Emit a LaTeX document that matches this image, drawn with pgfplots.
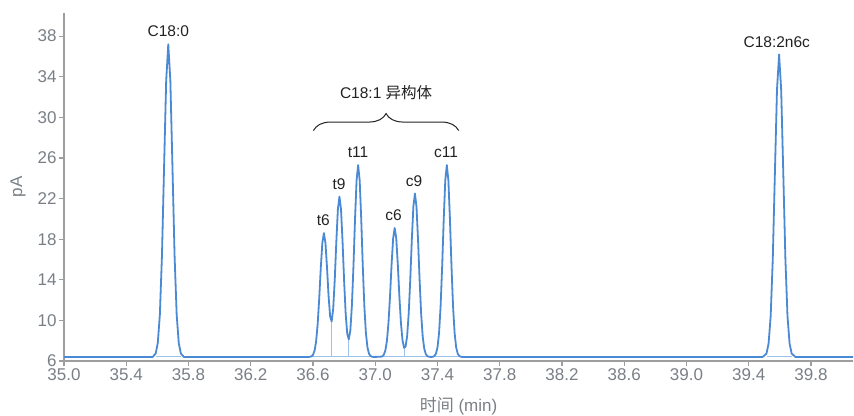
\documentclass[border=0pt]{standalone}
\usepackage{pgfplots}
\pgfplotsset{compat=1.18}
\usepackage{fontspec}
\setmainfont{Liberation Sans}
\newfontfamily\cjk{Noto Sans CJK SC}
\usetikzlibrary{decorations.pathreplacing}
\definecolor{lineblue}{HTML}{4A89D3}
\definecolor{lightblue}{HTML}{9CC2EC}
\definecolor{axisgrey}{HTML}{9E9E9E}
\definecolor{ticktext}{HTML}{7A7F85}
\definecolor{annot}{HTML}{222222}
\begin{document}
\begin{tikzpicture}
\begin{axis}[
  at={(64pt,54pt)}, anchor=south west,
  scale only axis, width=789pt, height=348pt,
  xmin=35, xmax=40.07, ymin=6, ymax=40.28,
  axis x line*=bottom, axis y line*=left,
  axis line style={axisgrey, line width=1.4pt},
  tick style={axisgrey, line width=1.2pt},
  major tick length=5pt, tick align=outside,
  xtick={35.0,35.4,35.8,36.2,36.6,37.0,37.4,37.8,38.2,38.6,39.0,39.4,39.8},
  xticklabels={35.0,35.4,35.8,36.2,36.6,37.0,37.4,37.8,38.2,38.6,39.0,39.4,39.8},
  ytick={6,10,14,18,22,26,30,34,38},
  yticklabels={6,10,14,18,22,26,30,34,38},
  tick label style={font=\fontsize{17}{19}\selectfont, text=ticktext},
  xticklabel style={yshift=1pt},
  yticklabel style={xshift=1pt},
  xlabel={{\cjk 时间} (min)},
  ylabel={pA},
  xlabel style={at={(axis description cs:0.5,0)}, anchor=center, yshift=-45pt, font=\fontsize{17}{19}\selectfont, text=ticktext},
  ylabel style={at={(axis description cs:0,0.5)}, anchor=center, rotate=0, yshift=46pt, font=\fontsize{17}{19}\selectfont, text=ticktext},
  clip=false,
]
% integration baselines and drop lines
\addplot[lightblue, line width=1pt] coordinates {(35.59,6.4) (35.75,6.4)};
\addplot[lightblue, line width=1pt] coordinates {(36.59,6.4) (37.55,6.4)};
\addplot[lightblue, line width=1pt] coordinates {(39.515,6.4) (39.675,6.4)};
\addplot[lightblue, line width=1pt] coordinates {(36.72,6.4) (36.72,9.89)};
\addplot[lightblue, line width=1pt] coordinates {(36.83,6.4) (36.83,8.13)};
\addplot[lightblue, line width=1pt] coordinates {(37.19,6.4) (37.19,7.27)};
% chromatogram
\addplot[lineblue, line width=1.8pt, line join=round] coordinates {
(35.00,6.40) (35.57,6.40) (35.589,6.74) (35.6025,7.75) (35.616,10.57) (35.6295,16.40) (35.643,25.08) (35.6565,33.58) (35.67,37.20) (35.6835,33.58) (35.697,25.08) (35.7105,16.40) (35.724,10.57) (35.7375,7.75) (35.751,6.74) (35.77,6.40)
(36.57,6.40) (36.58,6.415) (36.59,6.46) (36.60,6.61) (36.61,7.01) (36.62,7.92) (36.63,9.62) (36.64,12.16) (36.65,15.15) (36.66,17.62) (36.67,18.60) (36.68,17.64) (36.69,15.23) (36.70,12.43) (36.71,10.41) (36.72,9.89) (36.73,11.18) (36.74,14.07) (36.75,17.79) (36.76,20.95) (36.77,22.20) (36.78,20.94) (36.79,17.73) (36.80,13.88) (36.81,10.66) (36.82,8.69) (36.83,8.13) (36.84,9.02) (36.85,11.47) (36.86,15.34) (36.87,19.95) (36.88,23.79) (36.89,25.30) (36.90,23.79) (36.91,19.95) (36.92,15.32) (36.93,11.39) (36.94,8.75) (36.95,7.34) (36.96,6.72) (36.97,6.49) (36.98,6.42) (36.99,6.40)
(37.035,6.42) (37.045,6.46) (37.055,6.62) (37.065,7.03) (37.075,7.98) (37.085,9.75) (37.095,12.39) (37.105,15.51) (37.115,18.08) (37.125,19.10) (37.135,18.08) (37.145,15.51) (37.155,12.39) (37.165,9.77) (37.175,8.06) (37.185,7.30) (37.195,7.42) (37.205,8.47) (37.215,10.67) (37.225,14.00) (37.235,17.94) (37.245,21.21) (37.255,22.50) (37.265,21.21) (37.275,17.94) (37.285,14.00) (37.295,10.65) (37.305,8.40) (37.315,7.20) (37.325,6.67) (37.335,6.48) (37.345,6.42) (37.36,6.40) (37.37,6.42) (37.38,6.49) (37.39,6.72) (37.40,7.34) (37.41,8.75) (37.42,11.39) (37.43,15.32) (37.44,19.95) (37.45,23.79) (37.46,25.30) (37.47,23.79) (37.48,19.95) (37.49,15.32) (37.50,11.39) (37.51,8.75) (37.52,7.34) (37.53,6.72) (37.54,6.49) (37.55,6.42) (37.56,6.40)
(39.49,6.40) (39.514,6.73) (39.5275,7.71) (39.541,10.43) (39.5545,16.08) (39.568,24.47) (39.5815,32.70) (39.595,36.20) (39.6085,32.70) (39.622,24.47) (39.6355,16.08) (39.649,10.43) (39.6625,7.71) (39.676,6.73) (39.70,6.40) (40.07,6.40)
};
% peak labels
\begin{scope}[every node/.style={font=\fontsize{15.5}{17}\selectfont, text=annot, anchor=south, inner sep=0pt, yshift=7pt}]
\node at (axis cs:35.67,37.2) {C18:0};
\node at (axis cs:36.666,18.6) {t6};
\node at (axis cs:36.767,22.2) {t9};
\node at (axis cs:36.889,25.3) {t11};
\node at (axis cs:37.118,19.1) {c6};
\node at (axis cs:37.25,22.5) {c9};
\node at (axis cs:37.455,25.3) {c11};
\node at (axis cs:39.58,36.2) {C18:2n6c};
\end{scope}
\draw[annot, line width=1pt, decorate, decoration={brace, amplitude=17pt}] (axis cs:36.603,28.7) -- (axis cs:37.536,28.7);
\node[font=\fontsize{15.5}{17}\selectfont, text=annot, anchor=center] at (axis cs:37.07,32.4) {C18:1 {\cjk 异构体}};
\end{axis}
\pgfresetboundingbox
\path[use as bounding box] (0,0) rectangle (854pt,415pt);
\end{tikzpicture}
\end{document}
